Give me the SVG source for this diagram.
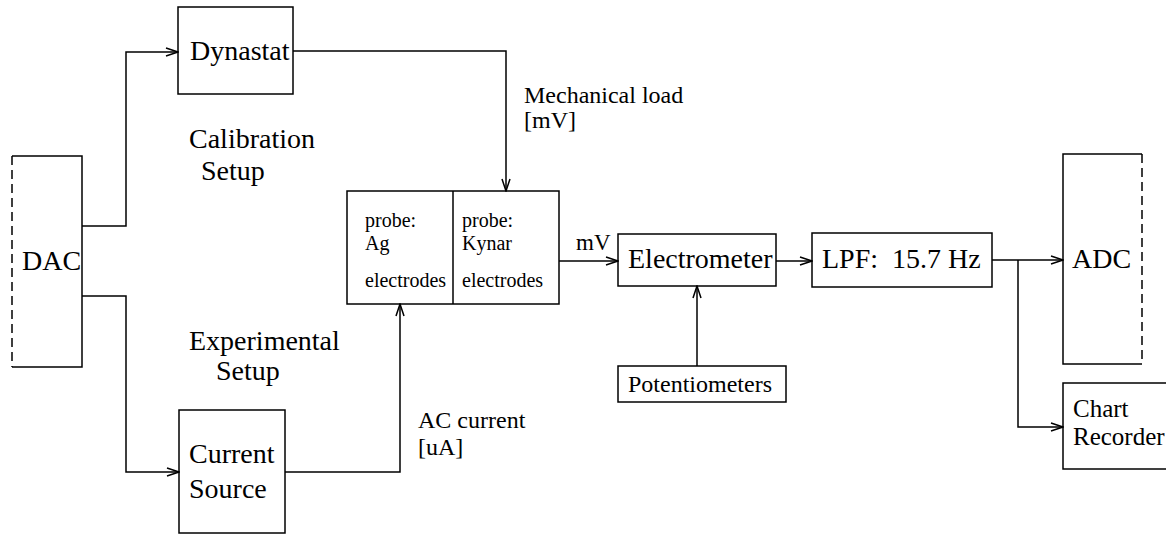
<svg xmlns="http://www.w3.org/2000/svg" width="1166" height="535" viewBox="0 0 1166 535">
<style>
.box{fill:none;stroke:#000;stroke-width:1.5}
.dash{fill:none;stroke:#000;stroke-width:1.5;stroke-dasharray:9 5}
.wire{fill:none;stroke:#000;stroke-width:1.5}
text{font-family:"Liberation Serif","Times New Roman",serif;fill:#000}
.big{font-size:28px}
.mid{font-size:24px}
.sm{font-size:20px}
</style>
<defs>
<marker id="arr" markerUnits="userSpaceOnUse" markerWidth="14" markerHeight="10" refX="13" refY="5" orient="auto">
<path d="M1,1 L13,5 L1,9" fill="none" stroke="#000" stroke-width="1.5"/>
</marker>
</defs>
<rect width="1166" height="535" fill="#fff"/>
<g id="connectors">
<path class="wire" d="M82,226 H126 V52 H178" marker-end="url(#arr)"/>
<path class="wire" d="M82,296 H126 V472 H179" marker-end="url(#arr)"/>
<path class="wire" d="M293,51 H506 V191" marker-end="url(#arr)"/>
<path class="wire" d="M285,472 H400 V304" marker-end="url(#arr)"/>
<path class="wire" d="M559,261 H618" marker-end="url(#arr)"/>
<path class="wire" d="M776,261 H812" marker-end="url(#arr)"/>
<path class="wire" d="M992,260 H1063" marker-end="url(#arr)"/>
<path class="wire" d="M1018,260 V427 H1063" marker-end="url(#arr)"/>
<path class="wire" d="M697,366 V286" marker-end="url(#arr)"/>
<text class="mid" x="524" y="103">Mechanical load</text>
<text class="mid" x="524" y="128">[mV]</text>
<text class="mid" x="418" y="428">AC current</text>
<text class="mid" x="418" y="455">[uA]</text>
<text class="mid" x="576" y="250" style="font-size:23px">mV</text>
</g>
<g id="labels">
<text class="big" x="189" y="148">Calibration</text>
<text class="big" x="201" y="180">Setup</text>
<text class="big" x="189" y="350">Experimental</text>
<text class="big" x="216" y="380">Setup</text>
</g>
<g id="dac">
<path class="box" d="M12,156 H82 V367 H12"/>
<path class="dash" d="M12,156 V367"/>
<text class="big" x="22" y="270">DAC</text>
</g>
<g id="dynastat">
<rect class="box" x="178" y="7" width="115" height="87"/>
<text class="big" x="190" y="60">Dynastat</text>
</g>
<g id="current-source">
<rect class="box" x="179" y="410" width="106" height="123"/>
<text class="big" x="189" y="463">Current</text>
<text class="big" x="189" y="498">Source</text>
</g>
<g id="probe">
<rect class="box" x="347" y="191" width="212" height="113"/>
<line class="box" x1="453" y1="191" x2="453" y2="304"/>
<text class="sm" x="365" y="227">probe:</text>
<text class="sm" x="365" y="250">Ag</text>
<text class="sm" x="365" y="287">electrodes</text>
<text class="sm" x="462" y="227">probe:</text>
<text class="sm" x="462" y="250">Kynar</text>
<text class="sm" x="462" y="287">electrodes</text>
</g>
<g id="electrometer">
<rect class="box" x="618" y="234" width="158" height="52"/>
<text class="big" x="628" y="268">Electrometer</text>
</g>
<g id="potentiometers">
<rect class="box" x="618" y="366" width="168" height="36"/>
<text class="mid" x="628" y="392">Potentiometers</text>
</g>
<g id="lpf">
<rect class="box" x="812" y="233" width="180" height="54"/>
<text class="big" x="822" y="268" xml:space="preserve">LPF:  15.7 Hz</text>
</g>
<g id="adc">
<path class="box" d="M1142,154 H1063 V364 H1142"/>
<path class="dash" d="M1142,154 V364"/>
<text class="big" x="1072" y="268">ADC</text>
</g>
<g id="chart-recorder">
<rect class="box" x="1063" y="383" width="110" height="86"/>
<text class="mid" x="1073" y="417" style="font-size:25px">Chart</text>
<text class="mid" x="1073" y="445" style="font-size:25px">Recorder</text>
</g>
</svg>
